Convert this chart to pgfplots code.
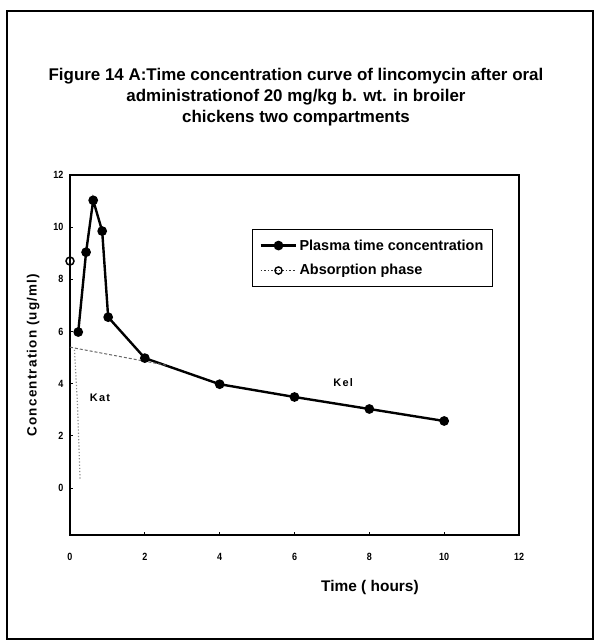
\documentclass[border=0pt]{standalone}
\usepackage{pgfplots}
\pgfplotsset{compat=1.18}
\usepackage{fontspec}
\setmainfont{Liberation Sans}
\newfontfamily\narrow{Liberation Sans}[FakeStretch=0.86]
\newfontfamily\spaced{Liberation Sans}[LetterSpace=12]
\newfontfamily\yspaced{Liberation Sans}[LetterSpace=9]

\begin{document}
\begin{tikzpicture}[x=1bp,y=1bp]
\path (-70,-109) rectangle (530,535);
% outer frame of the scan
\draw[line width=2bp] (-63,-104) rectangle (523,524);

\begin{axis}[
    scale only axis,
    width=449bp, height=360bp,
    xmin=0, xmax=12, ymin=-1.8, ymax=12,
    xtick={0,2,...,12}, ytick={0,2,...,12},
    set layers,
    axis line style={line width=2.5bp},
    tick style={black, line width=0.8bp},
    major tick length=3bp,
    tick align=inside,
    xtick pos=bottom, ytick pos=left,
    /pgf/number format/assume math mode=true,
    tick label style={font=\narrow\bfseries\fontsize{10.5}{12}\selectfont},
    xticklabel style={yshift=-15bp},
    yticklabel style={xshift=-3bp},
    xlabel={Time ( hours)},
    xlabel style={font=\bfseries\fontsize{15.5}{18}\selectfont,
        at={(axis description cs:0.668,-0.147)}, anchor=center},
    ylabel={Concentration (ug/ml)},
    ylabel style={font=\yspaced\bfseries\fontsize{13.5}{15}\selectfont,
        at={(axis description cs:-0.082,0.5)}, anchor=center},
    clip=false,
    legend style={at={(axis description cs:0.405,0.85)}, anchor=north west,
        draw=black, line width=1.2bp,
        font=\bfseries\fontsize{14.5}{16}\selectfont,
        inner xsep=7bp, inner ysep=8bp, row sep=9bp},
    legend cell align=left,
    legend image code/.code={%
        \draw[mark repeat=2,mark phase=2,#1]
            plot coordinates {(0cm,0cm) (0.63cm,0cm) (1.26cm,0cm)};},
]
\addplot[black, line width=2.4bp, mark=*, mark size=3.6bp] coordinates {
    (0.22,5.98) (0.43,9.04) (0.62,11.03) (0.86,9.85) (1.02,6.55)
    (2,4.98) (4,3.98) (6,3.49) (8,3.03) (10,2.57)
};
\addlegendentry{Plasma time concentration}

\addlegendimage{black!80, dotted, line width=1.6bp, mark=o, mark size=3.6bp,
    mark options={solid, black, fill=white, line width=1.4bp}}
\addlegendentry{Absorption phase}

\addplot[forget plot, black, mark=o, mark size=4bp, only marks,
    mark options={solid, fill=white, line width=1.5bp},
    on layer=axis foreground] coordinates {
    (0,8.7)
};

% extrapolated absorption line and residual points
\addplot[forget plot, black!60, densely dashed, line width=1bp] coordinates {
    (0,5.4) (2.6,4.7)
};
\addplot[forget plot, black!45, dotted, line width=1.2bp] coordinates {
    (0.12,5.3) (0.2,3.2) (0.27,0.3)
};

\node[font=\spaced\bfseries\fontsize{11}{12}\selectfont] at (axis cs:0.8,3.45) {Kat};
\node[font=\spaced\bfseries\fontsize{11}{12}\selectfont] at (axis cs:7.3,4.06) {Kel};
\end{axis}

\node[align=center, font=\bfseries\fontsize{17}{21}\selectfont]
    at (226,438) {Figure 14 A:Time concentration curve of lincomycin after oral\\
    administrationof 20 mg/kg b. wt. in broiler\\
    chickens two compartments};
\end{tikzpicture}
\end{document}
